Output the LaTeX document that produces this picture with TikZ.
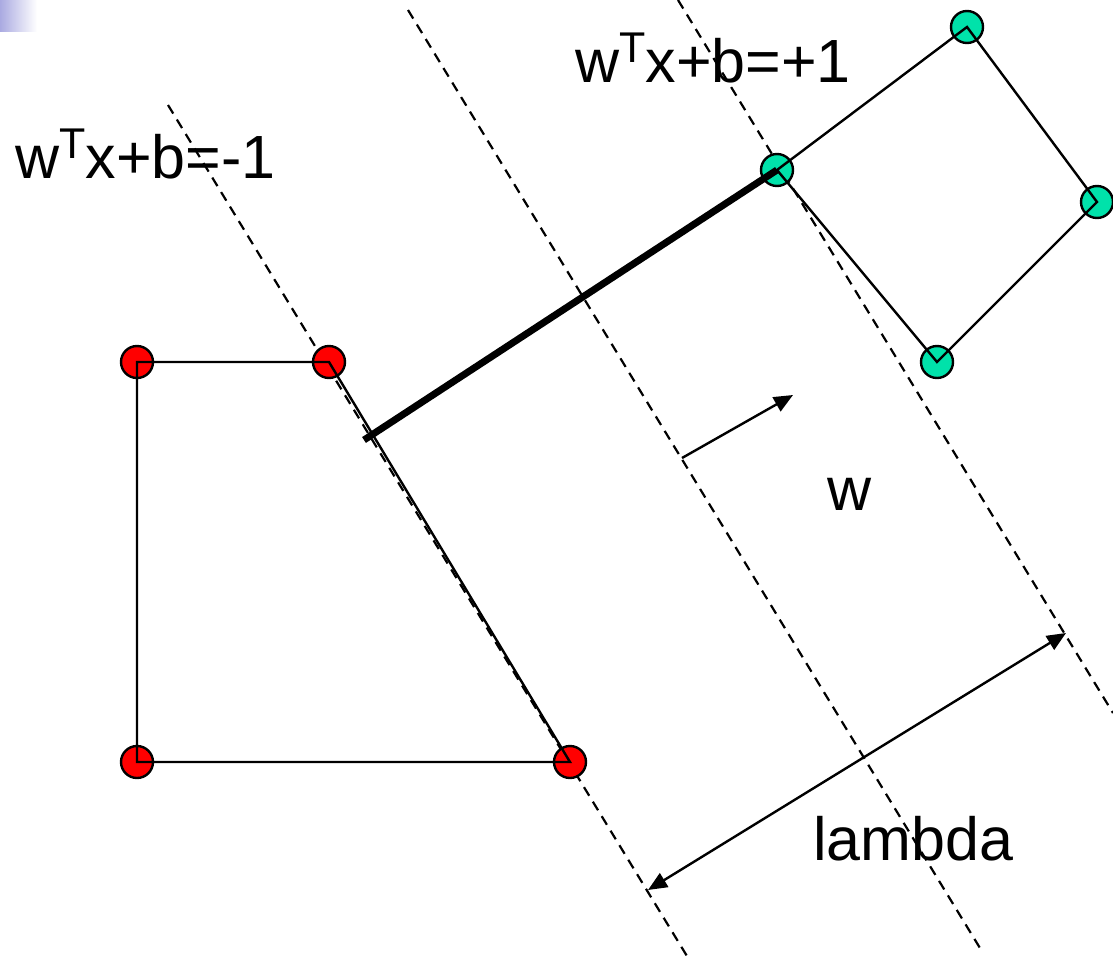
\documentclass[tikz,border=0pt]{standalone}
\usepackage{fontspec}
\setmainfont{Liberation Sans}
\usetikzlibrary{arrows.meta}
\definecolor{redpt}{RGB}{255,0,0}
\definecolor{greenpt}{RGB}{0,226,170}
\definecolor{lavender}{RGB}{170,170,225}
\begin{document}
\begin{tikzpicture}[x=1pt,y=-1pt,
  rednode/.style={circle,draw=black,line width=2.4pt,fill=redpt,minimum size=32pt,inner sep=0pt},
  greennode/.style={circle,draw=black,line width=2.4pt,fill=greenpt,minimum size=32pt,inner sep=0pt},
  edge/.style={line width=2.4pt},
  margin/.style={dash pattern=on 10pt off 7pt,line width=2.2pt},
  thickbar/.style={line width=7pt},
  vec/.style={line width=2.4pt,-{Triangle[length=19pt,width=16pt]}},
  dimarrow/.style={line width=2.4pt,{Triangle[length=19pt,width=16pt]}-{Triangle[length=19pt,width=16pt]}},
  lbl/.style={font=\fontsize{61}{61}\selectfont,inner sep=0pt,anchor=base west}
]
\useasboundingbox (0,0) rectangle (1113,961);
\shade[left color=lavender,right color=white] (0,0) rectangle (37,31);

% dashed lines
\coordinate (l1a) at (168,105);
\coordinate (l1b) at (690,961);
\coordinate (l2a) at (408,10);
\coordinate (l2b) at (983,953);
\coordinate (l3a) at (678,0);
\coordinate (l3b) at (1113,713);
\draw[margin] (l1a) -- (l1b);
\draw[margin] (l2a) -- (l2b);
\draw[margin] (l3a) -- (l3b);

% points
\node[rednode] (r1) at (137,362) {};
\node[rednode] (r2) at (329,362) {};
\node[rednode] (r3) at (570,762) {};
\node[rednode] (r4) at (137,762) {};
\node[greennode] (g1) at (967,27) {};
\node[greennode] (g2) at (1097,202) {};
\node[greennode] (g3) at (937,362) {};
\node[greennode] (g4) at (777,170) {};

% polygons
\draw[edge,line join=miter] (r1.center) -- (r2.center) -- (r3.center) -- (r4.center) -- cycle;
\draw[edge,line join=miter] (g4.center) -- (g1.center) -- (g2.center) -- (g3.center) -- cycle;

% thick margin segment
\coordinate (tb) at (364,440);
\draw[thickbar] (tb) -- (g4.center);

% w vector
\coordinate (w0) at (682,458);
\coordinate (w1) at (793,395);
\draw[vec] (w0) -- (w1);

% lambda
\coordinate (la) at (648,890);
\coordinate (lb) at (1066,633);
\draw[dimarrow] (la) -- (lb);

% labels
\node[lbl] (tplus) at (575,82) {w\raisebox{20pt}{\fontsize{43}{43}\selectfont T}x+b=+1};
\node[lbl] (tminus) at (15,178) {w\raisebox{20pt}{\fontsize{43}{43}\selectfont T}x+b=-1};
\node[lbl] (wl) at (827,510) {w};
\node[lbl] (lam) at (813,860) {lambda};
\end{tikzpicture}
\end{document}
